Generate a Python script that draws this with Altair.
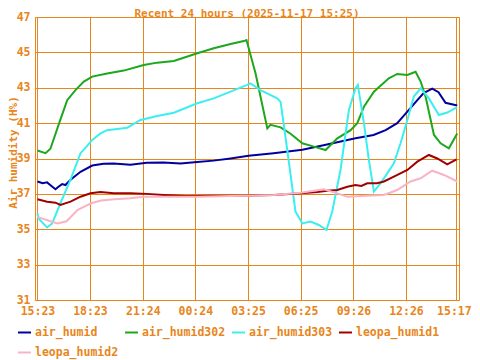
import altair as alt
import pandas as pd

ORANGE = "#E8861C"
FONT = "DejaVu Sans Mono"
FS = 11.5

chart_title = "Recent 24 hours (2025-11-17 15:25)"
y_title = "Air humidity (H%)"

series_names = ["air_humid", "air_humid302", "air_humid303", "leopa_humid1", "leopa_humid2"]
series_colors = ["#0000A0", "#1CA81C", "#3CEEF0", "#A00000", "#F8B4C4"]

tick_hours = [0, 3.0, 6.017, 9.017, 12.033, 15.033, 18.05, 21.05, 23.9]
tick_labels = ["15:23", "18:23", "21:24", "00:24", "03:25", "06:25", "09:26", "12:26", "15:17"]
y_ticks = [31, 33, 35, 37, 39, 41, 43, 45, 47]

air_humid_h = [0, 0.3, 0.55, 0.8, 1.03, 1.2, 1.41, 1.6, 1.89, 2.46, 3.13, 3.77, 4.34, 5.31, 6.25, 7.2,
               8.17, 9.13, 10.06, 11.03, 12.06, 13.49, 15.13, 16.34, 18.17, 19.2, 19.89, 20.55, 21.13,
               21.7, 22.06, 22.55, 22.91, 23.31, 23.98]
air_humid_v = [37.7, 37.6, 37.65, 37.45, 37.26, 37.4, 37.55, 37.5, 37.8, 38.25, 38.6, 38.7, 38.72, 38.65,
               38.76, 38.78, 38.72, 38.8, 38.88, 39.0, 39.15, 39.3, 39.5, 39.75, 40.14, 40.33, 40.6, 41.0,
               41.65, 42.3, 42.7, 42.95, 42.75, 42.15, 42.0]

air_humid302_h = [0, 0.46, 0.74, 1.31, 1.7, 2.17, 2.65, 3.13, 3.98, 4.93, 6.07, 6.84, 7.79, 9.13, 10.07,
                  11.03, 11.79, 11.94, 12.46, 13.13, 13.31, 13.89, 14.46, 15.13, 15.79, 16.46, 17.13,
                  17.89, 18.27, 18.65, 19.22, 20.07, 20.55, 21.13, 21.6, 21.89, 22.17, 22.65, 23.03,
                  23.5, 23.98]
air_humid302_v = [39.45, 39.3, 39.55, 41.2, 42.3, 42.87, 43.35, 43.63, 43.8, 43.97, 44.29, 44.42, 44.51,
                  44.95, 45.23, 45.47, 45.64, 45.7, 43.8, 40.7, 40.9, 40.76, 40.4, 39.86, 39.67, 39.48,
                  40.14, 40.6, 41.0, 41.93, 42.78, 43.53, 43.78, 43.72, 43.9, 43.35, 42.5, 40.33, 39.86,
                  39.58, 40.42]

air_humid303_h = [0, 0.07, 0.55, 0.84, 1.31, 1.89, 2.46, 2.74, 3.13, 3.6, 3.98, 5.13, 5.89, 6.84, 7.79,
                  9.13, 10.07, 11.03, 11.98, 12.17, 12.74, 13.7, 13.89, 14.27, 14.74, 15.13, 15.6, 16.07,
                  16.51, 16.84, 17.31, 17.79, 18.17, 18.3, 18.65, 18.93, 19.22, 19.6, 19.98, 20.36,
                  20.74, 21.13, 21.5, 21.89, 22.36, 22.93, 23.41, 23.98]
air_humid303_v = [35.9, 35.6, 35.1, 35.33, 36.47, 37.8, 39.3, 39.6, 40.05, 40.42, 40.6, 40.74, 41.18,
                  41.4, 41.59, 42.12, 42.4, 42.78, 43.16, 43.25, 42.87, 42.4, 42.2, 39.48, 36.0, 35.33,
                  35.43, 35.24, 34.96, 36.0, 38.35, 41.74, 42.97, 43.16, 41.0, 38.92, 37.13, 37.6, 38.16,
                  38.73, 39.86, 41.18, 42.5, 42.97, 42.4, 41.46, 41.6, 41.9]

leopa_humid1_h = [0, 0.55, 1.03, 1.31, 1.89, 2.46, 3.03, 3.6, 4.36, 5.31, 6.25, 7.22, 8.5, 10.0, 11.6,
                  13.49, 15.03, 16.0, 16.55, 17.13, 17.7, 18.17, 18.5, 18.84, 19.41, 19.79, 20.36, 21.13,
                  21.7, 22.36, 22.84, 23.41, 23.94]
leopa_humid1_v = [36.7, 36.56, 36.5, 36.37, 36.56, 36.84, 37.03, 37.1, 37.03, 37.03, 37.0, 36.94, 36.88,
                  36.9, 36.9, 36.94, 37.03, 37.1, 37.18, 37.22, 37.4, 37.5, 37.45, 37.6, 37.6, 37.7,
                  37.97, 38.35, 38.82, 39.2, 39.0, 38.67, 38.95]

leopa_humid2_h = [0, 0.74, 1.16, 1.66, 2.3, 3.07, 3.64, 4.4, 5.31, 6.07, 7.22, 9.13, 11.03, 12.06, 13.49,
                  15.03, 16.36, 17.13, 17.7, 18.84, 19.79, 20.55, 21.31, 21.89, 22.55, 23.22, 23.98]
leopa_humid2_v = [35.7, 35.45, 35.33, 35.45, 36.1, 36.47, 36.62, 36.7, 36.75, 36.84, 36.84, 36.84, 36.88,
                  36.9, 36.94, 37.07, 37.26, 37.03, 36.84, 36.9, 36.94, 37.22, 37.7, 37.88, 38.31, 38.07,
                  37.7]

all_h = [air_humid_h, air_humid302_h, air_humid303_h, leopa_humid1_h, leopa_humid2_h]
all_v = [air_humid_v, air_humid302_v, air_humid303_v, leopa_humid1_v, leopa_humid2_v]

rows = []
for name, hs, vs in zip(series_names, all_h, all_v):
    for h, v in zip(hs, vs):
        rows.append({"series": name, "h": h, "v": v})
df = pd.DataFrame(rows)

label_expr = "''"
for t, lab in reversed(list(zip(tick_hours, tick_labels))):
    label_expr = f"abs(datum.value - {t}) < 0.01 ? '{lab}' : ({label_expr})"

common_axis = dict(
    labelFont=FONT, labelFontSize=FS, labelFontWeight="bold", labelColor=ORANGE,
    grid=True, gridColor=ORANGE, gridOpacity=1, gridWidth=1,
    ticks=False, domain=False, labelOverlap=False, labelFlush=False, labelBound=False,
)

chart = alt.Chart(df).mark_line(strokeWidth=2, clip=True).encode(
    x=alt.X("h:Q",
            scale=alt.Scale(domain=[-0.14, 24.08], nice=False, zero=False),
            axis=alt.Axis(values=tick_hours, labelExpr=label_expr, title=None, labelPadding=5,
                          labelOffset={"condition": {"test": "datum.value > 23", "value": -2},
                                       "value": 0},
                          **common_axis)),
    y=alt.Y("v:Q",
            scale=alt.Scale(domain=[31, 47], nice=False, zero=False),
            axis=alt.Axis(values=y_ticks, title=y_title, labelPadding=5,
                          titleFont=FONT, titleFontSize=11, titleFontWeight="bold", titleColor=ORANGE,
                          titleAngle=270, titleBaseline="middle", titleAlign="center",
                          titleX=-21.5, titleY=135, **common_axis)),
    color=alt.Color("series:N",
                    scale=alt.Scale(domain=series_names, range=series_colors),
                    legend=alt.Legend(title=None, orient="none", legendX=-18, legendY=308,
                                      direction="horizontal", columns=4, symbolType="stroke",
                                      symbolSize=169, symbolStrokeWidth=2, labelFont=FONT,
                                      labelFontSize=FS, labelFontWeight="bold", labelColor=ORANGE,
                                      labelOffset=3, columnPadding=2, rowPadding=7, padding=0,
                                      labelLimit=300)),
).properties(
    width=424, height=283,
    autosize="none",
    padding={"left": 27, "top": 9, "right": 13, "bottom": 62},
    title=alt.Title(chart_title, font=FONT, fontSize=11, fontWeight="bold", color=ORANGE,
                    anchor="middle", offset=0, baseline="alphabetic", dy=17),
).configure_view(stroke=ORANGE, strokeWidth=1)

chart.save("out.html", embed_options={"renderer": "svg", "actions": False})
